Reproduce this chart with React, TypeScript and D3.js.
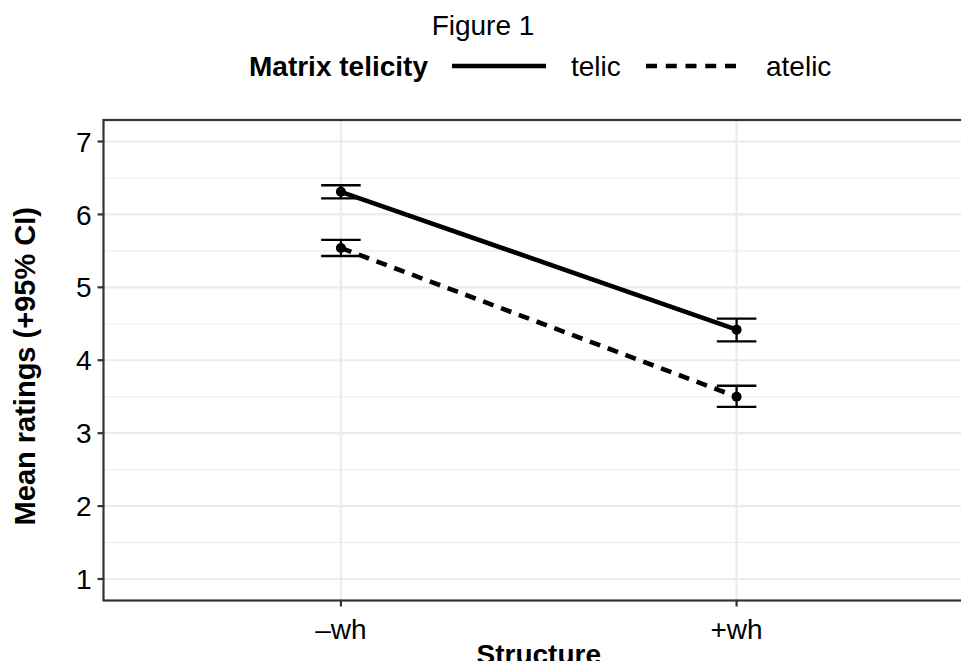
import React from "react";
import * as d3 from "d3";

const structures = ["–wh", "+wh"];
const telicMean = [6.31, 4.42];
const telicLow = [6.22, 4.26];
const telicHigh = [6.4, 4.57];
const atelicMean = [5.54, 3.5];
const atelicLow = [5.43, 3.36];
const atelicHigh = [5.65, 3.65];
const yTicks = [1, 2, 3, 4, 5, 6, 7];
const yMinor = [1.5, 2.5, 3.5, 4.5, 5.5, 6.5];

const series = [
  { name: "telic", mean: telicMean, low: telicLow, high: telicHigh, dash: "" },
  { name: "atelic", mean: atelicMean, low: atelicLow, high: atelicHigh, dash: "11,8" },
];

export default function App() {
  const W = 961, H = 661;
  const left = 103.5, right = 974, top = 120, bottom = 600.5;
  const font = "'Liberation Sans', Arial, Helvetica, sans-serif";
  const fs = 28;
  const lw = 4.6;
  const x = d3.scaleLinear().domain([0.4, 2.6]).range([left, right]);
  const y = d3.scaleLinear().domain([0.705, 7.295]).range([bottom, top]);
  const xi = (i: number) => x(i + 1);
  const line = d3.line<number>().x((_, i) => xi(i)).y((d) => y(d));
  const capW = x(1.05) - x(0.95);
  return (
    <svg width={W} height={H} style={{ position: "absolute", left: 0, top: 0, fontFamily: font }}>
      <rect x={0} y={0} width={W} height={H} fill="#fff" />
      <g>
        {yMinor.map((v) => (
          <line key={"m" + v} x1={left} x2={right} y1={y(v)} y2={y(v)} stroke="#EBEBEB" strokeWidth={1.1} />
        ))}
        {yTicks.map((v) => (
          <line key={"M" + v} x1={left} x2={right} y1={y(v)} y2={y(v)} stroke="#EBEBEB" strokeWidth={2.2} />
        ))}
        {structures.map((s, i) => (
          <line key={s} x1={xi(i)} x2={xi(i)} y1={top} y2={bottom} stroke="#EBEBEB" strokeWidth={2.2} />
        ))}
      </g>
      {series.map((s) => (
        <g key={s.name}>
          <path d={line(s.mean) || ""} fill="none" stroke="#000" strokeWidth={lw} strokeDasharray={s.dash} />
          {s.mean.map((m, i) => (
            <g key={i}>
              <line x1={xi(i)} x2={xi(i)} y1={y(s.low[i])} y2={y(s.high[i])} stroke="#000" strokeWidth={2.3} />
              <line x1={xi(i) - capW / 2} x2={xi(i) + capW / 2} y1={y(s.low[i])} y2={y(s.low[i])} stroke="#000" strokeWidth={2.3} />
              <line x1={xi(i) - capW / 2} x2={xi(i) + capW / 2} y1={y(s.high[i])} y2={y(s.high[i])} stroke="#000" strokeWidth={2.3} />
              <circle cx={xi(i)} cy={y(m)} r={5} fill="#000" />
            </g>
          ))}
        </g>
      ))}
      <rect x={left} y={top} width={right - left} height={bottom - top} fill="none" stroke="#333" strokeWidth={2.2} />
      {yTicks.map((v) => (
        <g key={"t" + v}>
          <line x1={left - 6} x2={left} y1={y(v)} y2={y(v)} stroke="#333" strokeWidth={2.2} />
          <text x={left - 12} y={y(v)} dy="0.36em" textAnchor="end" fontSize={fs} fill="#000">{v}</text>
        </g>
      ))}
      {structures.map((s, i) => (
        <g key={"xt" + s}>
          <line x1={xi(i)} x2={xi(i)} y1={bottom} y2={bottom + 6} stroke="#333" strokeWidth={2.2} />
          <text x={xi(i)} y={bottom + 38} textAnchor="middle" fontSize={fs} fill="#000">{s}</text>
        </g>
      ))}
      <text transform={`translate(35,${(top + bottom) / 2 + 6}) rotate(-90)`} textAnchor="middle" fontSize={29} fontWeight="bold" fill="#000">Mean ratings (+95% CI)</text>
      <text x={(left + right) / 2} y={664} textAnchor="middle" fontSize={fs} fontWeight="bold" fill="#000">Structure</text>
      <text x={483} y={35} textAnchor="middle" fontSize={fs} fill="#000">Figure 1</text>
      <text x={249} y={76} fontSize={fs} fontWeight="bold" fill="#000">Matrix telicity</text>
      <line x1={452} x2={546} y1={66} y2={66} stroke="#000" strokeWidth={lw} />
      <text x={571} y={76} fontSize={fs} fill="#000">telic</text>
      <line x1={646} x2={736} y1={66} y2={66} stroke="#000" strokeWidth={lw} strokeDasharray="11,8.75" />
      <text x={766} y={76} fontSize={fs} fill="#000">atelic</text>
    </svg>
  );
}
